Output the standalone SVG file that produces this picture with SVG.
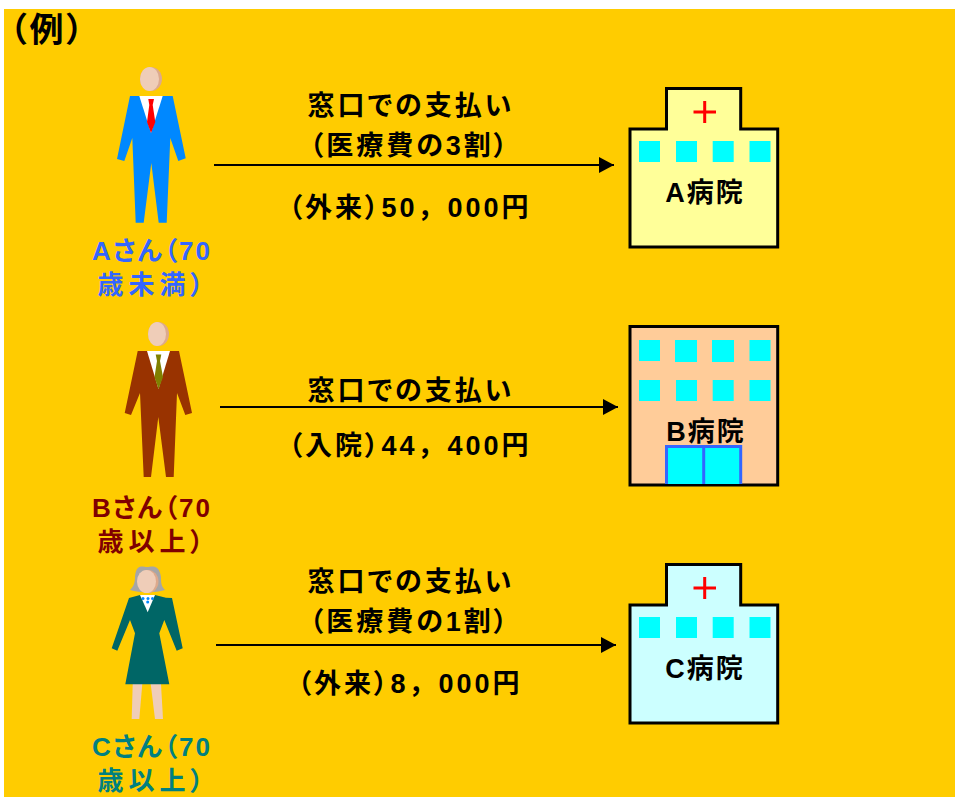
<svg xmlns="http://www.w3.org/2000/svg" width="955" height="798" viewBox="0 0 955 798">
<style>
text{font-family:"Liberation Sans","Noto Sans CJK JP",sans-serif;font-weight:700;text-anchor:middle;font-feature-settings:"palt"}
.t{font-size:27px;fill:#000;letter-spacing:3px}
.n{font-feature-settings:normal}
.l{font-size:26px;letter-spacing:2px}
.l2{font-size:26px;letter-spacing:5px}
.h{font-size:27px;fill:#000;letter-spacing:2px}
.w{fill:#00FFFF}
.b{stroke:#000;stroke-width:3}
.c{stroke:#f00;stroke-width:3;fill:none}
.skin{fill:#EFCDB8}
.shade{fill:#DDA98C}
.ar{stroke:#000;stroke-width:2;fill:none}
</style>
<defs>
<marker id="a" markerUnits="userSpaceOnUse" markerWidth="16" markerHeight="16" refX="15" refY="8" orient="auto"><path d="M0 0L15 8L0 16z" fill="#000"/></marker>
</defs>
<rect x="4" y="9" width="951" height="788" fill="#FFCC00"/>
<text id="title" x="48" y="42" style="font-size:34px;letter-spacing:3px" fill="#000">（例）</text>
<g id="connectors">
<line class="ar" x1="214" y1="165" x2="614" y2="165" marker-end="url(#a)"/>
<line class="ar" x1="220" y1="407" x2="618" y2="407" marker-end="url(#a)"/>
<line class="ar" x1="216" y1="645" x2="616" y2="645" marker-end="url(#a)"/>
</g>
<g id="labels">
<text class="t" x="411" y="115">窓口での支払い</text>
<text class="t" x="410" y="155">（医療費の3割）</text>
<text class="t" x="410" y="217">（外来）50<tspan class="n">，</tspan>000円</text>
<text class="t" x="411" y="400">窓口での支払い</text>
<text class="t" x="410" y="455">（入院）44<tspan class="n">，</tspan>400円</text>
<text class="t" x="411" y="591">窓口での支払い</text>
<text class="t" x="410" y="631">（医療費の1割）</text>
<text class="t" x="410" y="693">（外来）8<tspan class="n">，</tspan>000円</text>
</g>
<g id="person-a">
<ellipse class="shade" cx="151" cy="79" rx="11" ry="12"/><ellipse class="skin" cx="149.5" cy="79" rx="9.5" ry="12"/>
<polygon fill="#0088FF" points="130,96 172.7,96 185.7,158.3 178.3,161 170.3,138 166.7,222.7 158.7,222.7 151.3,163 143.7,222.7 135.7,222.7 132.3,138 124.3,161 117,159"/>
<polygon fill="#fff" points="139.3,96 162.7,96 151,133"/>
<polygon fill="#f00" points="148.3,99 154,99 152.7,105 155.3,122 151,133 147,122 149.3,105"/>
<text class="l" x="152" y="260" fill="#3366FF">Aさん（70</text>
<text class="l2" x="153" y="294" fill="#3366FF">歳未満）</text>
</g>
<g id="person-b">
<ellipse class="shade" cx="158.5" cy="334" rx="10.5" ry="12"/><ellipse class="skin" cx="157" cy="334" rx="9" ry="12"/>
<polygon fill="#993300" points="137.7,351 179,351 192,413 185.3,415 177,393 173.7,477 166,477 158.3,417 151,477 143.7,477 140,393 131,415 124.7,413"/>
<polygon fill="#fff" points="147,351 170,351 158.5,389"/>
<polygon fill="#808000" points="155.7,354.5 161.3,354.5 160,361 163,377 158.5,389 154.5,377 157,361"/>
<text class="l" x="152" y="517" fill="#800000">Bさん（70</text>
<text class="l2" x="153" y="551" fill="#800000">歳以上）</text>
</g>
<g id="person-c">
<path fill="#A6A6A6" d="M130 590C134 586 135 582 135 577C136 563 143 567 147 567C151 567 159 563 161 577C161 582 161 586 165 590C155 593 140 593 130 590z"/>
<ellipse class="shade" cx="148" cy="581.5" rx="10.5" ry="11.5"/><ellipse class="skin" cx="146.5" cy="581.5" rx="9.5" ry="11.5"/>
<polygon class="skin" points="132.7,684 142.3,684 139.3,719 131.7,719"/>
<polygon class="skin" points="150.7,684 161,684 163,719 155,719"/>
<polygon fill="#006666" points="140,595 155,595 166,597.7 172,598 182.7,648.3 176.7,650.7 164.3,620 159.3,633.3 169.3,684.3 125.3,684.3 135,633.3 130,620 117.3,650.7 111.7,648.3 129,598"/>
<polygon fill="#fff" points="140,595 155,595 147.7,612.3"/>
<circle cx="143" cy="598.5" r="1.5" fill="#0088FF"/><circle cx="148" cy="598.5" r="1.5" fill="#0088FF"/><circle cx="152.5" cy="598.5" r="1.5" fill="#0088FF"/><circle cx="147.7" cy="602" r="1.5" fill="#0088FF"/>
<text class="l" x="152" y="756" fill="#008080">Cさん（70</text>
<text class="l2" x="153" y="790" fill="#008080">歳以上）</text>
</g>
<g id="hospital-a">
<polygon class="b" fill="#FFFF99" points="630,129 666.5,129 666.5,88.5 740.7,88.5 740.7,129 777.7,129 777.7,247 630,247"/>
<path class="c" d="M693.5 112H716M704.7 101V123"/>
<rect class="w" x="639" y="141" width="21" height="21"/><rect class="w" x="676" y="141" width="21" height="21"/><rect class="w" x="712.7" y="141" width="21" height="21"/><rect class="w" x="749.5" y="141" width="21" height="21"/>
<text class="h" x="705" y="202">A病院</text>
</g>
<g id="hospital-b">
<rect class="b" fill="#FFCC99" x="630" y="326.5" width="147.7" height="158.5"/>
<rect class="w" x="639" y="340" width="21" height="21"/><rect class="w" x="675" y="340" width="22" height="22"/><rect class="w" x="712" y="340" width="22" height="22"/><rect class="w" x="749.5" y="340" width="21" height="21"/>
<rect class="w" x="639" y="380" width="21" height="21"/><rect class="w" x="676" y="380" width="21" height="21"/><rect class="w" x="712.7" y="380" width="21" height="21"/><rect class="w" x="749.5" y="380" width="21" height="21"/>
<text class="h" x="706" y="441">B病院</text>
<path fill="#00FFFF" stroke="#3366FF" stroke-width="3" d="M666.5 484V446.5H740.7V484M703.7 446.5V484"/>
</g>
<g id="hospital-c">
<polygon class="b" fill="#CCFFFF" points="630,605 666.5,605 666.5,564.5 740.7,564.5 740.7,605 777.7,605 777.7,723 630,723"/>
<path class="c" d="M693.5 588H716M704.7 577V599"/>
<rect class="w" x="639" y="617" width="21" height="21"/><rect class="w" x="676" y="617" width="21" height="21"/><rect class="w" x="712.7" y="617" width="21" height="21"/><rect class="w" x="749.5" y="617" width="21" height="21"/>
<text class="h" x="705" y="678">C病院</text>
</g>
</svg>
